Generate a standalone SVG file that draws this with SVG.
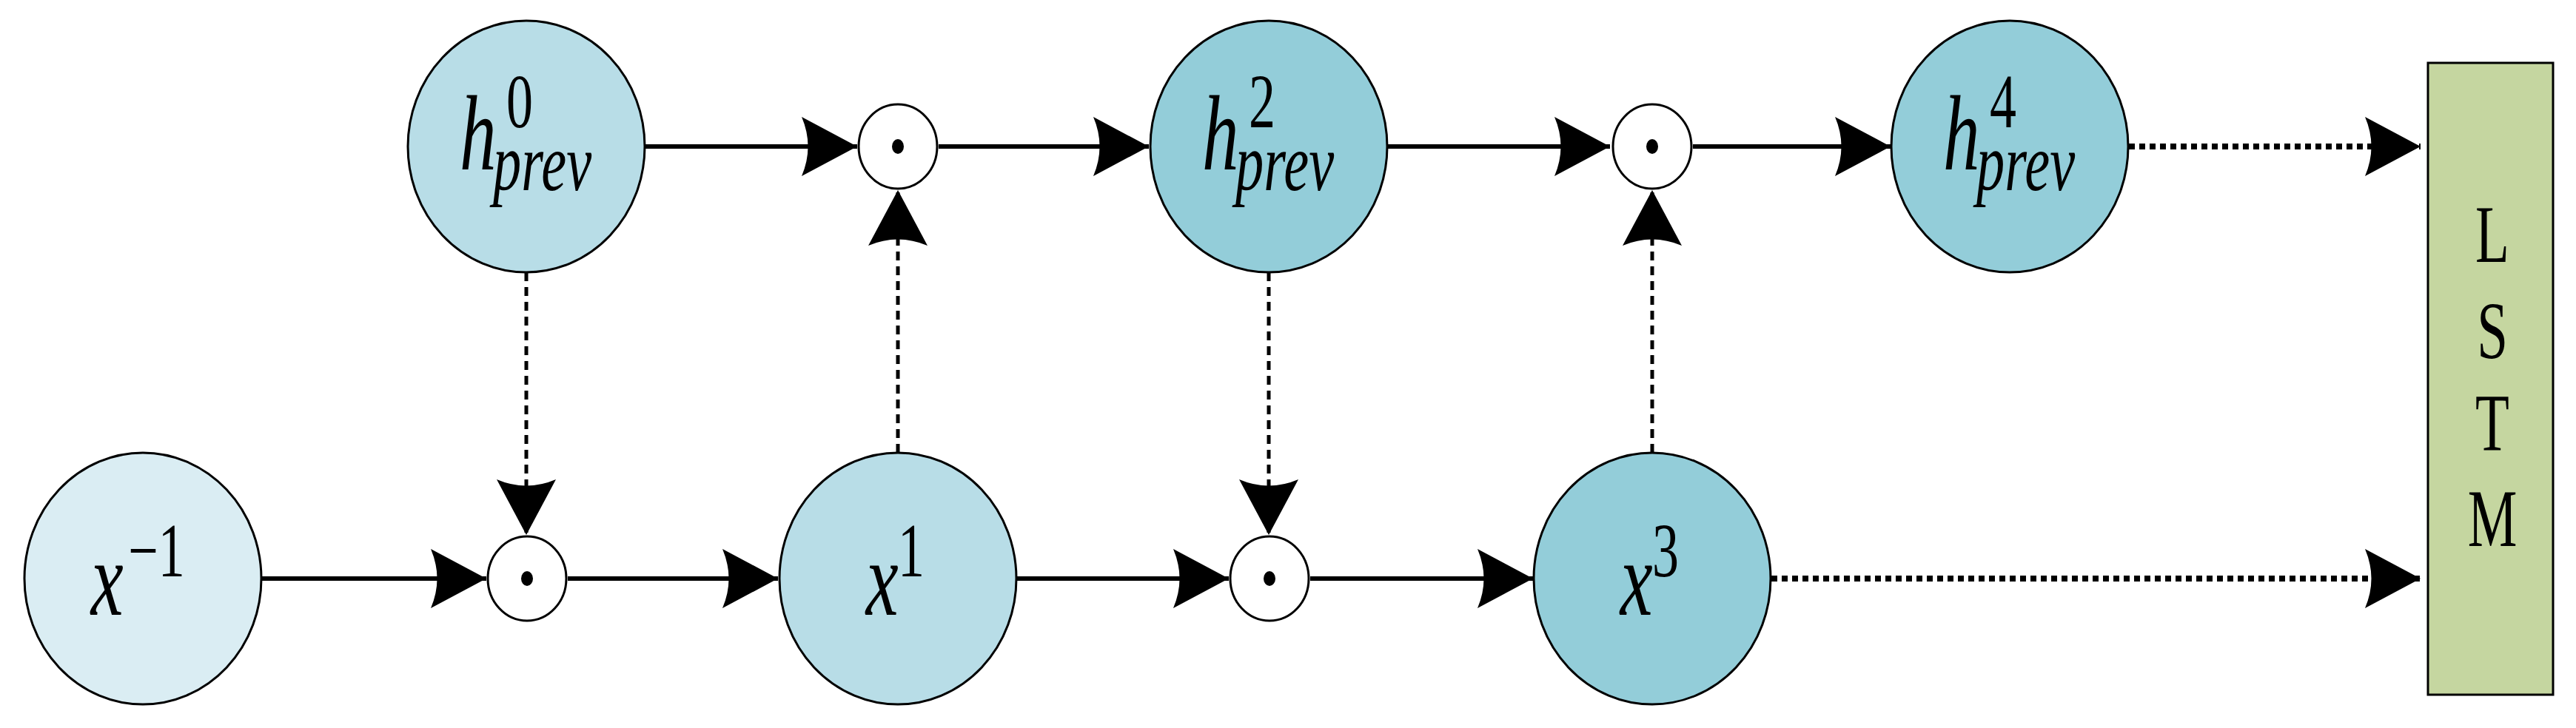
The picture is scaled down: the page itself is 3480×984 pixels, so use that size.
<svg xmlns="http://www.w3.org/2000/svg" width="3480" height="984" viewBox="0 0 3480 984">
<style>
.n{stroke:#000;stroke-width:3}
.c1{fill:#daedf3}.c2{fill:#b8dde7}.c3{fill:#93cdd9}
.op{fill:#fff;stroke:#000;stroke-width:3}
.t{font-family:"Liberation Serif","Times New Roman",serif;font-style:italic;fill:#000}
.big{font-size:110px}.sup{font-size:80px;font-style:normal}.sub{font-size:85px}
.s{stroke:#000;stroke-width:6;fill:none}
.d{stroke:#000;stroke-width:5;fill:none;stroke-dasharray:12 8}
.dt{stroke:#000;stroke-width:8;fill:none;stroke-dasharray:8 6}
.L{font-family:"Liberation Serif",serif;font-size:100px;text-anchor:middle}
</style>
<defs>
<marker id="a" viewBox="-80 -42 82 84" refX="0" refY="0" markerWidth="82" markerHeight="84" markerUnits="userSpaceOnUse" orient="auto">
<path d="M0,0 L-75,-40 Q-58,0 -75,40 Z" fill="#000"/>
</marker>
</defs>
<g id="connectors">
<line class="s" x1="871" y1="198" x2="1158" y2="198" marker-end="url(#a)"/>
<line class="s" x1="1268" y1="198" x2="1552" y2="198" marker-end="url(#a)"/>
<line class="s" x1="1874" y1="198" x2="2175" y2="198" marker-end="url(#a)"/>
<line class="s" x1="2287" y1="198" x2="2554" y2="198" marker-end="url(#a)"/>
<line class="dt" x1="2876" y1="198" x2="3270" y2="198" marker-end="url(#a)"/>
<line class="s" x1="353" y1="782" x2="657" y2="782" marker-end="url(#a)"/>
<line class="s" x1="767" y1="782" x2="1051" y2="782" marker-end="url(#a)"/>
<line class="s" x1="1373" y1="782" x2="1660" y2="782" marker-end="url(#a)"/>
<line class="s" x1="1770" y1="782" x2="2071" y2="782" marker-end="url(#a)"/>
<line class="dt" x1="2393" y1="782" x2="3270" y2="782" marker-end="url(#a)"/>
<line class="d" x1="711" y1="368" x2="711" y2="723" marker-end="url(#a)"/>
<line class="d" x1="1714" y1="368" x2="1714" y2="723" marker-end="url(#a)"/>
<line class="d" x1="1213" y1="612" x2="1213" y2="257" marker-end="url(#a)"/>
<line class="d" x1="2232" y1="612" x2="2232" y2="257" marker-end="url(#a)"/>
</g>
<g id="h0"><ellipse class="n c2" cx="711" cy="198" rx="160" ry="170"/>
<g transform="translate(711,198) scale(0.9,1.3)"><text class="t big" x="-100" y="24">h</text><text class="t sup" x="-30" y="-20">0</text><text class="t sub" x="-50" y="45">prev</text></g></g>
<g id="h2"><ellipse class="n c3" cx="1714" cy="198" rx="160" ry="170"/>
<g transform="translate(1714,198) scale(0.9,1.3)"><text class="t big" x="-100" y="24">h</text><text class="t sup" x="-30" y="-20">2</text><text class="t sub" x="-50" y="45">prev</text></g></g>
<g id="h4"><ellipse class="n c3" cx="2715" cy="198" rx="160" ry="170"/>
<g transform="translate(2715,198) scale(0.9,1.3)"><text class="t big" x="-100" y="24">h</text><text class="t sup" x="-30" y="-20">4</text><text class="t sub" x="-50" y="45">prev</text></g></g>
<g id="xm1"><ellipse class="n c1" cx="193" cy="782" rx="160" ry="170"/>
<g transform="translate(193,782) scale(0.9,1.3)"><text class="t big" x="-78" y="38">x</text><text class="t sup" x="-22" y="-2">−1</text></g></g>
<g id="x1"><ellipse class="n c2" cx="1213" cy="782" rx="160" ry="170"/>
<g transform="translate(1213,782) scale(0.9,1.3)"><text class="t big" x="-48" y="38">x</text><text class="t sup" x="0" y="-2">1</text></g></g>
<g id="x3"><ellipse class="n c3" cx="2232" cy="782" rx="160" ry="170"/>
<g transform="translate(2232,782) scale(0.9,1.3)"><text class="t big" x="-48" y="38">x</text><text class="t sup" x="0" y="-2">3</text></g></g>
<g id="op1"><ellipse class="op" cx="1213" cy="198" rx="53" ry="57"/><ellipse cx="1213" cy="198" rx="8" ry="10"/></g>
<g id="op2"><ellipse class="op" cx="2232" cy="198" rx="53" ry="57"/><ellipse cx="2232" cy="198" rx="8" ry="10"/></g>
<g id="op3"><ellipse class="op" cx="712" cy="782" rx="53" ry="57"/><ellipse cx="712" cy="782" rx="8" ry="10"/></g>
<g id="op4"><ellipse class="op" cx="1715" cy="782" rx="53" ry="57"/><ellipse cx="1715" cy="782" rx="8" ry="10"/></g>
<g id="lstm"><rect x="3280" y="85" width="169" height="854" fill="#c5d6a0" stroke="#000" stroke-width="3"/>
<g transform="translate(3367,0) scale(0.75,1.1)"><text class="L" x="0" y="322">L</text><text class="L" x="0" y="440">S</text><text class="L" x="0" y="554">T</text><text class="L" x="0" y="671">M</text></g></g>
</svg>
